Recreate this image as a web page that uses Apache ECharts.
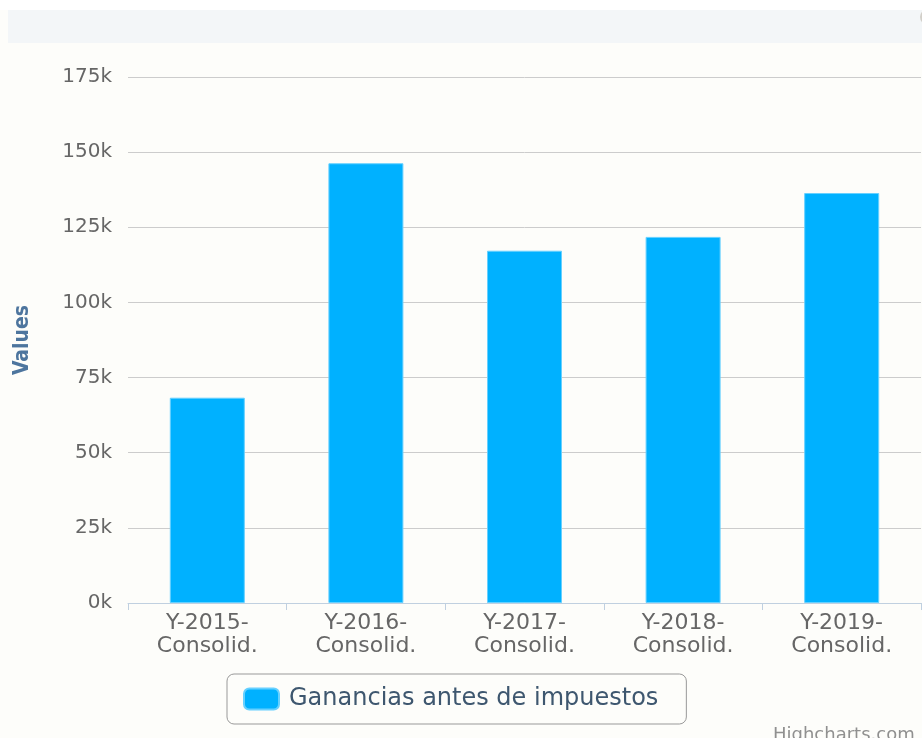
<!DOCTYPE html>
<html>
<head>
<meta charset="utf-8">
<title>Ganancias antes de impuestos</title>
<script src="https://cdn.jsdelivr.net/npm/echarts@6/dist/echarts.min.js"></script>
<style>
  html, body { margin: 0; padding: 0; background: #ffffff; }
  #chart { width: 922px; height: 738px; }
</style>
</head>
<body>
<div id="chart"></div>
<script>
// Yearly consolidated figures
const categories = [
  'Y-2015-\nConsolid.',
  'Y-2016-\nConsolid.',
  'Y-2017-\nConsolid.',
  'Y-2018-\nConsolid.',
  'Y-2019-\nConsolid.'
];
const seriesName = 'Ganancias antes de impuestos';
const gananciasValues = [68300, 146300, 117200, 121800, 136400];
const axisTitle = 'Values';
const yMin = 0;
const yMax = 175000;
const yStep = 25000;
const creditText = 'Highcharts.com';

const FONT = '"DejaVu Sans", Verdana, sans-serif';
const chart = echarts.init(document.getElementById('chart'), null, { renderer: 'canvas' });

chart.setOption({
  animation: false,
  backgroundColor: '#fdfdfa',
  graphic: [
    { type: 'rect', z: -1, shape: { x: 0, y: 0, width: 922, height: 10 }, style: { fill: '#ffffff' } },
    { type: 'rect', z: -1, shape: { x: 8, y: 10, width: 914, height: 33 }, style: { fill: '#f3f6f8' } },
    { type: 'circle', shape: { cx: 928, cy: 17, r: 8 }, style: { fill: '#d2cfc9' } },
    { type: 'text', left: 773, top: 726, style: { text: creditText, fill: '#909090', font: '18px ' + FONT } }
  ],
  grid: { left: 128, right: 1, top: 77, bottom: 135, containLabel: false },
  legend: {
    data: [seriesName],
    left: 227,
    top: 674,
    orient: 'horizontal',
    icon: 'roundRect',
    itemWidth: 35,
    itemHeight: 21,
    padding: [13, 28, 13, 16],
    borderColor: '#999999',
    borderWidth: 1,
    borderRadius: 7,
    textStyle: { fontFamily: FONT, fontSize: 24, color: '#3e576f', padding: [0, 0, 0, 5] }
  },
  xAxis: {
    type: 'category',
    data: categories,
    boundaryGap: true,
    axisLine: { show: true, lineStyle: { color: '#c0d0e0', width: 1 } },
    axisTick: { show: true, alignWithLabel: false, length: 7, lineStyle: { color: '#c0d0e0' } },
    axisLabel: { fontFamily: FONT, fontSize: 22, lineHeight: 23, color: '#666666', margin: 9, interval: 0 },
    splitLine: { show: false }
  },
  yAxis: {
    type: 'value',
    min: yMin,
    max: yMax,
    interval: yStep,
    name: axisTitle,
    nameLocation: 'middle',
    nameGap: 95,
    nameRotate: 90,
    nameTextStyle: { fontFamily: '"DejaVu Sans Condensed", "DejaVu Sans", sans-serif', fontWeight: 'bold', fontSize: 21, color: '#4d759e' },
    axisLine: { show: false },
    axisTick: { show: false },
    axisLabel: {
      fontFamily: FONT, fontSize: 20, color: '#666666', margin: 16,
      formatter: v => (v / 1000) + 'k'
    },
    splitLine: { show: true, lineStyle: { color: '#cccccc', width: 1 } }
  },
  series: [{
    name: seriesName,
    type: 'bar',
    data: gananciasValues,
    barWidth: 75,
    itemStyle: { color: '#00b1ff', borderColor: '#66d0ff', borderWidth: 1 }
  }]
});
</script>
</body>
</html>
